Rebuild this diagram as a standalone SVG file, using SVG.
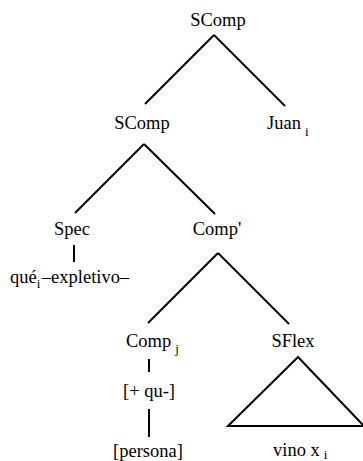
<svg xmlns="http://www.w3.org/2000/svg" width="363" height="461" viewBox="0 0 363 461">
<style>
text{font-family:'Liberation Serif','Times New Roman',Times,serif;font-size:18.5px;fill:#000}
.sub{font-size:13px}
.e{stroke:#000;stroke-width:2;fill:none;stroke-linecap:butt}
</style>
<rect width="363" height="461" fill="#fff"/>
<g id="connectors">
<line class="e" x1="214" y1="35" x2="145" y2="104"/>
<line class="e" x1="214" y1="35" x2="285" y2="106"/>
<line class="e" x1="144" y1="144" x2="75" y2="213"/>
<line class="e" x1="144" y1="144" x2="215" y2="214"/>
<line class="e" x1="74" y1="245" x2="74" y2="262"/>
<line class="e" x1="218" y1="253" x2="148" y2="323"/>
<line class="e" x1="218" y1="253" x2="289" y2="324"/>
<line class="e" x1="149" y1="359" x2="149" y2="372"/>
<line class="e" x1="149" y1="409" x2="149" y2="437"/>
<polygon class="e" points="298,357 228,426 364,426"/>
</g>
<g id="scomp-top"><text x="218" y="26" text-anchor="middle">SComp</text></g>
<g id="scomp-mid"><text x="142" y="129" text-anchor="middle">SComp</text></g>
<g id="juan"><text x="267" y="129">Juan<tspan class="sub" dx="4" dy="7">i</tspan></text></g>
<g id="spec"><text x="72" y="235" text-anchor="middle">Spec</text></g>
<g id="que"><text x="10" y="283">qué<tspan class="sub" dy="5">i</tspan><tspan dx="1.5" dy="-5">–expletivo–</tspan></text></g>
<g id="compbar"><text x="217" y="235" text-anchor="middle">Comp'</text></g>
<g id="compj"><text x="126" y="347">Comp<tspan class="sub" dx="4" dy="6">j</tspan></text></g>
<g id="qu"><text x="149" y="397" text-anchor="middle">[+ qu-]</text></g>
<g id="persona"><text x="148" y="457" text-anchor="middle">[persona]</text></g>
<g id="sflex"><text x="293" y="347" text-anchor="middle">SFlex</text></g>
<g id="vino"><text x="273" y="456">vino x<tspan class="sub" dx="4" dy="3">i</tspan></text></g>
</svg>
